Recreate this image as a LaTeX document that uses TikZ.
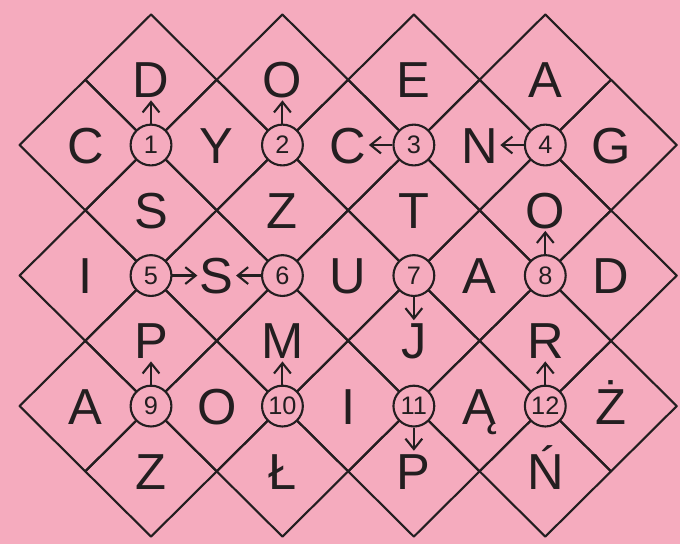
\documentclass[tikz,border=0pt]{standalone}
\usepackage{fontspec}
\setmainfont{Liberation Sans}
\usetikzlibrary{arrows.meta}
\definecolor{paper}{RGB}{245,171,190}
\definecolor{ink}{RGB}{35,30,32}

\begin{document}
\begin{tikzpicture}[
    x=1.6425cm, y=-1.63125cm,
    line width=1.5pt,
    >={Straight Barb[length=2.6mm,width=4.2mm]},
    cellbox/.style={draw=ink, line join=round},
    letter/.style={text=ink, inner sep=1pt, text height=25.8pt, text depth=0pt, font=\fontsize{36}{36}\selectfont},
    number/.style={draw=ink, fill=paper, circle, minimum size=1.02cm, inner sep=0pt, text=ink, font=\fontsize{18}{18}\selectfont},
    arr/.style={->, draw=ink}
]
\fill[paper] (-0.298,-0.222) rectangle (10.05,8.115);

% diamond cells with their letters
\foreach \c/\r/\t in {2/1/D, 4/1/O, 6/1/E, 8/1/A,
                      1/2/C, 3/2/Y, 5/2/C, 7/2/N, 9/2/G,
                      2/3/S, 4/3/Z, 6/3/T, 8/3/O,
                      1/4/I, 3/4/S, 5/4/U, 7/4/A, 9/4/D,
                      2/5/P, 4/5/M, 6/5/J, 8/5/R,
                      1/6/A, 3/6/O, 5/6/I, 7/6/Ą, 9/6/Ż,
                      2/7/Z, 4/7/Ł, 6/7/P, 8/7/Ń} {
  \draw[cellbox] (\c-1,\r) -- (\c,\r-1) -- (\c+1,\r) -- (\c,\r+1) -- cycle;
  \node[letter] (cell-\c-\r) at (\c,\r) {\t};
}

% numbered crossings
\foreach \n/\c/\r in {1/2/2, 2/4/2, 3/6/2, 4/8/2,
                      5/2/4, 6/4/4, 7/6/4, 8/8/4,
                      9/2/6, 10/4/6, 11/6/6, 12/8/6}
  \node[number] (n\n) at (\c,\r) {\n};

% arrows
\draw[arr] (n1) -- (cell-2-1);
\draw[arr] (n2) -- (cell-4-1);
\draw[arr] (n3) -- (cell-5-2);
\draw[arr] (n4) -- (cell-7-2);
\draw[arr] (n5) -- (cell-3-4);
\draw[arr] (n6) -- (cell-3-4);
\draw[arr] (n7) -- (cell-6-5);
\draw[arr] (n8) -- (cell-8-3);
\draw[arr] (n9) -- (cell-2-5);
\draw[arr] (n10) -- (cell-4-5);
\draw[arr] (n11) -- (cell-6-7);
\draw[arr] (n12) -- (cell-8-5);
\end{tikzpicture}
\end{document}
